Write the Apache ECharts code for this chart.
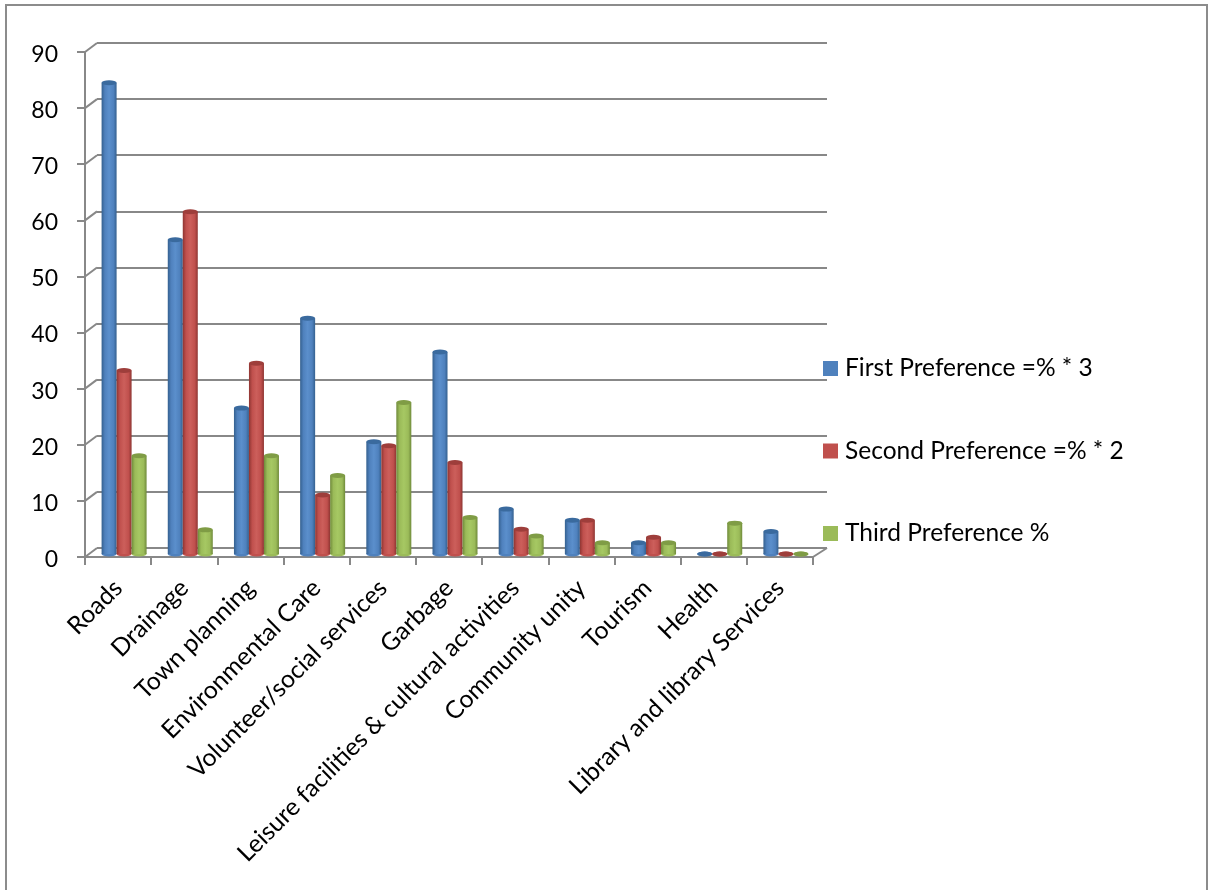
<!DOCTYPE html>
<html><head><meta charset="utf-8">
<style>html,body{margin:0;padding:0;background:#fff}#c{width:1214px;height:890px}</style>
<script src="https://cdn.jsdelivr.net/npm/echarts@6/dist/echarts.min.js"></script>
</head><body><div id="c"></div>
<script>
const categories = ['Roads','Drainage','Town planning','Environmental Care','Volunteer/social services','Garbage','Leisure facilities & cultural activities','Community unity','Tourism','Health','Library and library Services'];
const firstPref  = [84,56,26,42,20,36,8,6,2,0,4];
const secondPref = [32.7,61,34,10.5,19.3,16.3,4.4,6,3,0,0];
const thirdPref  = [17.5,4.3,17.5,14,27,6.5,3.2,2,2,5.5,0];
const seriesNames = ['First Preference =% * 3','Second Preference =% * 2','Third Preference %'];
const yTicks = [0,10,20,30,40,50,60,70,80,90];

const palette = [
  {main:'#4F81BD',light:'#5B8FCC',dark:'#34608F',cap:'#3A6A9E'},
  {main:'#C0504D',light:'#CC5F5B',dark:'#8E3532',cap:'#9E3E3B'},
  {main:'#9BBB59',light:'#A6C863',dark:'#6F8A3A',cap:'#7F9C45'}
];
const values = [firstPref,secondPref,thirdPref];
const grey = '#888888';
const grad = p => new echarts.graphic.LinearGradient(0,0,1,0,[
  {offset:0,color:p.dark},{offset:.22,color:p.main},{offset:.5,color:p.light},{offset:.8,color:p.main},{offset:1,color:p.dark}]);

const series = [];
series.push({type:'custom',xAxisIndex:0,yAxisIndex:0,silent:true,z:1,data:yTicks,
  renderItem(params,api){
    const cs = params.coordSys, y = api.coord([categories[0],api.value(0)])[1];
    const kids = [{type:'line',shape:{x1:cs.x,y1:y,x2:cs.x+12,y2:y-9},style:{stroke:grey,lineWidth:2}}];
    if (api.value(0)===0) kids.push({type:'line',shape:{x1:cs.x+cs.width,y1:y,x2:cs.x+cs.width+14,y2:y-9},style:{stroke:grey,lineWidth:2}});
    return {type:'group',children:kids};
  },encode:{y:0}});
values.forEach((vals,i)=>{
  const p = palette[i];
  series.push({name:seriesNames[i],type:'bar',xAxisIndex:1,yAxisIndex:1,data:vals,barWidth:15,barGap:0,z:3,
    itemStyle:{color:grad(p)}});
  series.push({name:seriesNames[i],type:'pictorialBar',xAxisIndex:3,yAxisIndex:1,data:vals,symbol:'circle',
    symbolSize:[15,5],symbolPosition:'start',symbolOffset:[0,'50%'],barWidth:15,barGap:0,z:2,itemStyle:{color:p.main}});
  series.push({name:seriesNames[i],type:'pictorialBar',xAxisIndex:1,yAxisIndex:1,data:vals,symbol:'circle',
    symbolSize:[15,5],symbolPosition:'end',symbolOffset:[0,'-50%'],barWidth:15,barGap:0,z:4,itemStyle:{color:p.cap}});
});

const font = 'Lato';
const chart = echarts.init(document.getElementById('c'),null,{renderer:'canvas'});
chart.setOption({
  animation:false,
  backgroundColor:'#fff',
  graphic:[{type:'rect',silent:true,z:-1,shape:{x:6,y:5,width:1201,height:900},style:{fill:'none',stroke:'#8c8c8c',lineWidth:2}}],
  legend:{orient:'vertical',left:818,top:351,itemWidth:15,itemHeight:15,itemGap:57.5,
    textStyle:{fontFamily:font,fontSize:24.5,color:'#000',padding:[0,0,0,2]},
    data:seriesNames.map((n,i)=>({name:n,icon:'rect',itemStyle:{color:palette[i].main}}))},
  grid:[
    {left:85,top:52,width:728,height:505},
    {left:91,top:49,width:728,height:505},
    {left:97,top:43,width:730,height:505},
    {left:85,top:54.5,width:728,height:505}
  ],
  xAxis:[
    {gridIndex:0,type:'category',data:categories,
      axisLine:{lineStyle:{color:grey,width:2}},axisTick:{show:true,length:8,lineStyle:{color:grey,width:2}},
      axisLabel:{interval:0,rotate:45,margin:27,fontFamily:font,fontSize:24.7,color:'#000',hideOverlap:false}},
    {gridIndex:1,type:'category',data:categories,show:false},
    {gridIndex:2,type:'category',data:categories,show:false},
    {gridIndex:1,type:'category',data:categories,show:false},
    {gridIndex:3,type:'category',data:categories,show:false}
  ],
  yAxis:[
    {gridIndex:0,type:'value',min:0,max:90,interval:10,splitLine:{show:false},
      axisLine:{show:true,lineStyle:{color:grey,width:2}},axisTick:{show:true,length:8,lineStyle:{color:grey,width:2}},
      axisLabel:{show:false}},
    {gridIndex:1,type:'value',min:0,max:90,interval:10,show:false,splitLine:{show:false}},
    {gridIndex:2,type:'value',min:0,max:90,interval:10,axisLine:{show:false},axisTick:{show:false},axisLabel:{show:false},
      splitLine:{show:true,lineStyle:{color:grey,width:2}}},
    {gridIndex:3,type:'value',min:0,max:90,interval:10,axisLine:{show:false},axisTick:{show:false},splitLine:{show:false},
      axisLabel:{margin:27,fontFamily:font,fontSize:23,color:'#000'}}
  ],
  series
});
</script></body></html>
